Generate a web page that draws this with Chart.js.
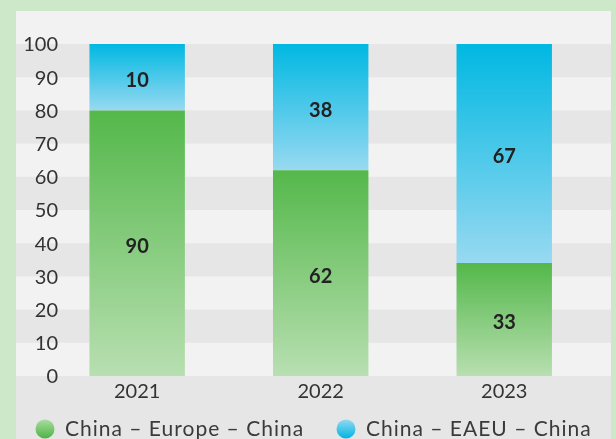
<!DOCTYPE html>
<html>
<head>
<meta charset="utf-8">
<script src="https://cdn.jsdelivr.net/npm/chart.js@4"></script>
<style>
    html, body { margin: 0; padding: 0; background: #cde7c9; overflow: hidden; }
    #wrap { width: 616px; height: 439px; }
</style>
</head>
<body>
<div id="wrap"><canvas id="chart" width="616" height="439"></canvas></div>
<script>
let years = ["2021", "2022", "2023"];
let seriesNames = ["China – Europe – China", "China – EAEU – China"];

// bar heights as drawn (share, %)
let europeShare = [80, 62, 34];
let eaeuShare = [20, 38, 66];

// numbers printed on the bars
let europeLabels = [90, 62, 33];
let eaeuLabels = [10, 38, 67];

let yTicks = [0, 10, 20, 30, 40, 50, 60, 70, 80, 90, 100];

const FONT = "Lato, 'Noto Sans', sans-serif";

// colours: [top, bottom]
const GREEN = ["#54b84a", "#b8dfb1"];
const BLUE = ["#00b8e2", "#98d9f1"];

function barGradient(colors, lowSeries, highSeries) {
    return function(ctx) {
        let chart = ctx.chart;
        if (!chart.chartArea || ctx.dataIndex === undefined) return colors[0];
        let y = chart.scales.y;
        let i = ctx.dataIndex;
        let base = lowSeries ? lowSeries[i] : 0;
        let top = base + highSeries[i];
        let g = chart.ctx.createLinearGradient(0, y.getPixelForValue(top), 0, y.getPixelForValue(base));
        g.addColorStop(0, colors[0]);
        g.addColorStop(1, colors[1]);
        return g;
    };
}

/* background panel + stripes */
const panelPlugin = {
    id: "panel",
    beforeDraw(chart) {
        let c = chart.ctx;
        let y = chart.scales.y;
        let left = 16, right = 611;
        c.save();
        c.fillStyle = "#f2f2f2";
        c.fillRect(left, 11, right - left, chart.height - 11);
        for (let i = 0; i < yTicks.length - 1; i++) {
            if (i % 2 === 1) {
                let y1 = y.getPixelForValue(yTicks[i + 1]);
                let y0 = y.getPixelForValue(yTicks[i]);
                c.fillStyle = "#e6e6e6";
                c.fillRect(left, y1, right - left, y0 - y1);
            }
        }
        let zero = y.getPixelForValue(0);
        c.fillStyle = "#e6e6e6";
        c.fillRect(left, zero, right - left, chart.height - zero);
        c.restore();
    }
};

/* value labels, y tick labels, legend */
const labelPlugin = {
    id: "labels",
    afterDatasetsDraw(chart) {
        let c = chart.ctx;
        let printed = [europeLabels, eaeuLabels];
        c.save();
        c.font = "bold 20px " + FONT;
        c.fillStyle = "#222222";
        c.textAlign = "center";
        c.textBaseline = "middle";
        chart.data.datasets.forEach((ds, d) => {
            chart.getDatasetMeta(d).data.forEach((bar, i) => {
                c.fillText(String(printed[d][i]), bar.x, (bar.y + bar.base) / 2 + 3);
            });
        });
        c.restore();
    },
    afterDraw(chart) {
        let c = chart.ctx;
        let y = chart.scales.y;

        // y ticks overlap the plot a little, so they are drawn here
        c.save();
        c.font = "20px " + FONT;
        c.fillStyle = "#333333";
        c.textAlign = "right";
        c.textBaseline = "middle";
        y.ticks.forEach(t => {
            c.fillText(String(t.value), 58, y.getPixelForValue(t.value) + 1);
        });
        c.restore();

        let items = [
            { x: 45, text: seriesNames[0], colors: ["#a9dca1", "#4db443"] },
            { x: 346, text: seriesNames[1], colors: ["#93d8f1", "#00b5e2"] }
        ];
        let cy = 429;
        c.save();
        c.font = "21px " + FONT;
        c.letterSpacing = "1px";
        c.textBaseline = "middle";
        c.textAlign = "left";
        items.forEach(it => {
            let g = c.createLinearGradient(0, cy - 9.5, 0, cy + 9.5);
            g.addColorStop(0, it.colors[0]);
            g.addColorStop(1, it.colors[1]);
            c.fillStyle = g;
            c.beginPath();
            c.arc(it.x, cy, 9.5, 0, Math.PI * 2);
            c.fill();
            c.fillStyle = "#3a3a3a";
            c.fillText(it.text, it.x + 20, cy);
        });
        c.restore();
    }
};

let chart = new Chart(document.getElementById("chart"), {
    type: "bar",
    data: {
        labels: years,
        datasets: [
            {
                label: seriesNames[0],
                data: europeShare,
                backgroundColor: barGradient(GREEN, null, europeShare)
            },
            {
                label: seriesNames[1],
                data: eaeuShare,
                backgroundColor: barGradient(BLUE, europeShare, eaeuShare)
            }
        ]
    },
    options: {
        responsive: false,
        animation: false,
        layout: { padding: { left: 0, right: 20, top: 44, bottom: 0 } },
        datasets: {
            bar: { categoryPercentage: 1, barPercentage: 0.52, borderWidth: 0 }
        },
        plugins: {
            legend: { display: false },
            tooltip: { enabled: false }
        },
        scales: {
            x: {
                stacked: true,
                grid: { display: false, drawTicks: false },
                border: { display: false },
                ticks: { color: "#333333", font: { family: FONT, size: 20 }, padding: 4 },
                afterFit(s) { s.height = 63; }
            },
            y: {
                stacked: true,
                min: 0,
                max: 100,
                grid: { display: false, drawTicks: false },
                border: { display: false },
                ticks: { stepSize: 10, display: false },
                afterFit(s) { s.width = 45.4; }
            }
        }
    },
    plugins: [panelPlugin, labelPlugin]
});
</script>
</body>
</html>
